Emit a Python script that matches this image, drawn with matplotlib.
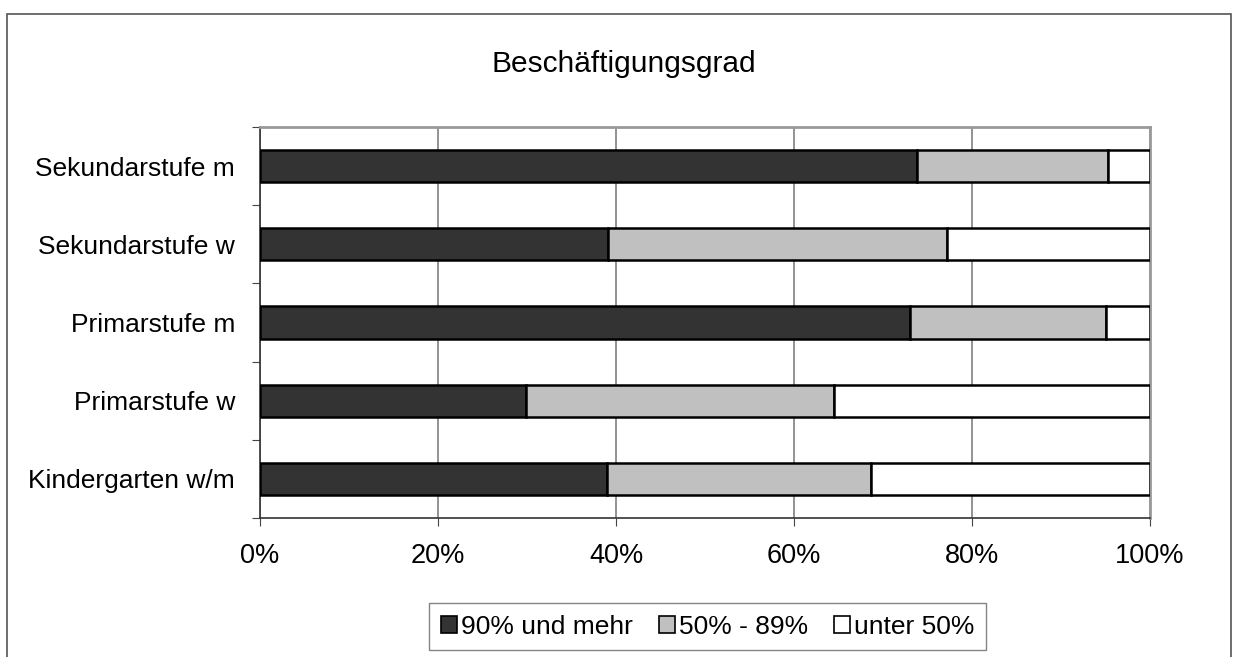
import numpy as np
import matplotlib.pyplot as plt
from matplotlib.patches import Rectangle

plt.rcParams['font.family'] = ['Liberation Sans', 'DejaVu Sans']

# Data (bottom to top)
categories = ['Kindergarten w/m', 'Primarstufe w', 'Primarstufe m',
              'Sekundarstufe w', 'Sekundarstufe m']
voll = np.array([39.0, 29.9, 73.0, 39.1, 73.8])
mittel = np.array([29.7, 34.6, 22.0, 38.1, 21.5])
tief = 100 - voll - mittel
series_labels = ['90% und mehr', '50% - 89%', 'unter 50%']
xticks = [0, 20, 40, 60, 80, 100]

fig = plt.figure(figsize=(12.34, 6.57), dpi=100)
ax = fig.add_axes([260 / 1234, 1 - 518 / 657, 890 / 1234, 391 / 657])

# outer chart frame
fig.add_artist(Rectangle((7 / 1234, -0.05), 1224 / 1234, 1 - 14 / 657 + 0.05,
                         transform=fig.transFigure, fill=False,
                         edgecolor='#555555', linewidth=1.2))

y = np.arange(len(categories))
h = 0.41
kw = dict(height=h, edgecolor='black', linewidth=1.8, zorder=3)
ax.barh(y, voll, color='#333333', label=series_labels[0], **kw)
ax.barh(y, mittel, left=voll, color='#c0c0c0', label=series_labels[1], **kw)
ax.barh(y, tief, left=voll + mittel, color='white', label=series_labels[2], **kw)

ax.set_xlim(0, 100)
ax.set_ylim(-0.5, len(categories) - 0.5)
ax.set_xticks(xticks)
ax.set_xticklabels([f'{v}%' for v in xticks], fontsize=19.5)
ax.xaxis.grid(True, color='#808080', linewidth=1.2, zorder=0)
ax.set_axisbelow(True)

# category labels centred, tick marks on boundaries
ax.set_yticks(np.arange(-0.5, len(categories), 1.0))
ax.set_yticklabels([])
ax.set_yticks(y, minor=True)
ax.set_yticklabels(categories, minor=True, fontsize=19)
ax.tick_params(axis='y', which='minor', length=0, pad=18)
ax.tick_params(axis='y', which='major', length=6, direction='out', color='#444444')
ax.tick_params(axis='x', length=6, direction='out', color='#444444', pad=12)

for s in ['left', 'bottom']:
    ax.spines[s].set_color('#333333')
    ax.spines[s].set_linewidth(1.2)
for s in ['top', 'right']:
    ax.spines[s].set_color('#999999')
    ax.spines[s].set_linewidth(2)

fig.text(623.5 / 1234, 1 - 64 / 657, 'Beschäftigungsgrad', ha='center',
         va='center', fontsize=21.5)

leg = fig.legend(loc='center', bbox_to_anchor=(707.5 / 1234, 1 - 626.5 / 657),
                 ncol=3, fontsize=19, frameon=True, fancybox=False,
                 handlelength=0.6, handleheight=0.6, handletextpad=0.15,
                 columnspacing=1.0, borderpad=0.45)
leg.get_frame().set_edgecolor('#666666')
leg.get_frame().set_linewidth(1.0)
for p in leg.get_patches():
    p.set_linewidth(1.2)

fig.savefig('out.png', dpi=100)
